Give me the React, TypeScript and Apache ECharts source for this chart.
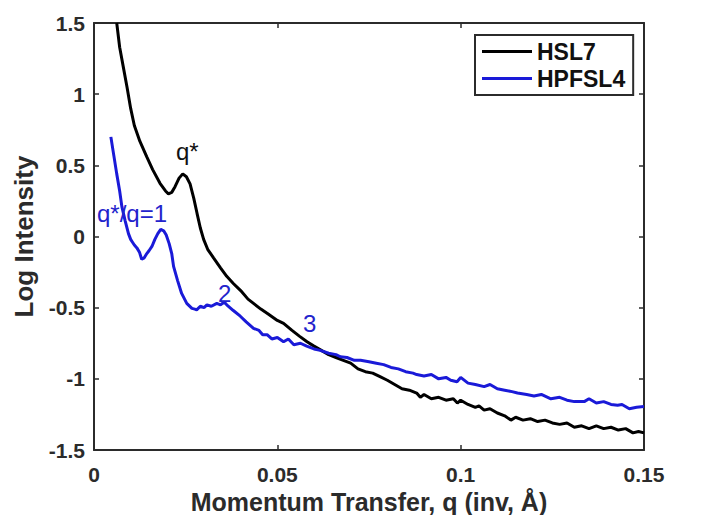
import React, { useEffect, useRef } from "react";
import * as echarts from "echarts";

const seriesNames = ["HSL7", "HPFSL4"];

const hsl7: [number, number][] = [
  [0.0062, 1.5], [0.007, 1.33], [0.008, 1.19], [0.009, 1.05], [0.01, 0.9], [0.011, 0.78],
  [0.0125, 0.67], [0.0144, 0.56], [0.016, 0.47], [0.018, 0.374], [0.0195, 0.32], [0.0203, 0.3],
  [0.0212, 0.31], [0.0221, 0.35], [0.0232, 0.41], [0.0242, 0.44], [0.0252, 0.42], [0.0262, 0.37],
  [0.0272, 0.27], [0.0281, 0.163], [0.029, 0.06], [0.0299, -0.02], [0.031, -0.09], [0.0326, -0.15],
  [0.0345, -0.22], [0.0362, -0.28], [0.038, -0.33], [0.04, -0.38], [0.042, -0.44], [0.0435, -0.47],
  [0.0455, -0.51], [0.0475, -0.545], [0.05, -0.59], [0.0517, -0.61], [0.054, -0.66], [0.056, -0.7],
  [0.0581, -0.74], [0.06, -0.77], [0.062, -0.8], [0.064, -0.83], [0.066, -0.85], [0.068, -0.87],
  [0.07, -0.89], [0.072, -0.93], [0.074, -0.95], [0.076, -0.96], [0.078, -0.985], [0.08, -1.01],
  [0.082, -1.04], [0.084, -1.07], [0.086, -1.08], [0.088, -1.1], [0.089, -1.13], [0.09, -1.11],
  [0.092, -1.14], [0.094, -1.13], [0.096, -1.15], [0.098, -1.14], [0.0991, -1.17], [0.1, -1.15],
  [0.102, -1.18], [0.104, -1.2], [0.105, -1.19], [0.1064, -1.22], [0.108, -1.21], [0.11, -1.24],
  [0.112, -1.26], [0.1137, -1.29], [0.115, -1.27], [0.117, -1.29], [0.119, -1.28], [0.121, -1.3],
  [0.123, -1.29], [0.125, -1.31], [0.127, -1.32], [0.129, -1.31], [0.131, -1.34], [0.133, -1.33],
  [0.135, -1.35], [0.137, -1.33], [0.139, -1.35], [0.141, -1.34], [0.143, -1.36], [0.145, -1.35],
  [0.147, -1.38], [0.1485, -1.37], [0.15, -1.38],
];

const hpfsl4: [number, number][] = [
  [0.0046, 0.7], [0.0054, 0.57], [0.0062, 0.44], [0.007, 0.32], [0.0076, 0.21], [0.0085, 0.11],
  [0.0094, 0.02], [0.01, -0.02], [0.0105, -0.04], [0.011, -0.06], [0.0117, -0.08], [0.0124, -0.11],
  [0.013, -0.16], [0.0137, -0.15], [0.0144, -0.12], [0.015, -0.1], [0.0158, -0.07], [0.0166, -0.02],
  [0.0174, 0.02], [0.0182, 0.05], [0.019, 0.04], [0.0197, 0.01], [0.0205, -0.05], [0.0212, -0.12],
  [0.0217, -0.21], [0.0228, -0.31], [0.0239, -0.4], [0.0253, -0.47], [0.0267, -0.505], [0.0275, -0.51],
  [0.028, -0.515], [0.029, -0.49], [0.03, -0.5], [0.0308, -0.48], [0.032, -0.49], [0.0335, -0.47],
  [0.0345, -0.48], [0.0355, -0.46], [0.0362, -0.48], [0.038, -0.52], [0.0399, -0.56], [0.0415, -0.6],
  [0.0435, -0.645], [0.045, -0.66], [0.046, -0.69], [0.0472, -0.69], [0.0485, -0.72], [0.05, -0.71],
  [0.0517, -0.74], [0.053, -0.72], [0.0545, -0.76], [0.0563, -0.75], [0.058, -0.77], [0.06, -0.79],
  [0.0617, -0.8], [0.064, -0.82], [0.066, -0.83], [0.0672, -0.845], [0.069, -0.85], [0.071, -0.87],
  [0.0727, -0.87], [0.075, -0.88], [0.077, -0.89], [0.079, -0.9], [0.081, -0.92], [0.083, -0.93],
  [0.085, -0.95], [0.087, -0.96], [0.088, -0.97], [0.09, -0.98], [0.092, -0.97], [0.094, -1.0],
  [0.096, -0.99], [0.0973, -1.01], [0.099, -1.02], [0.1, -0.99], [0.102, -1.03], [0.104, -1.04],
  [0.1064, -1.055], [0.108, -1.04], [0.11, -1.07], [0.112, -1.08], [0.114, -1.09], [0.1155, -1.1],
  [0.118, -1.11], [0.12, -1.12], [0.122, -1.11], [0.1246, -1.14], [0.127, -1.13], [0.129, -1.15],
  [0.131, -1.16], [0.1337, -1.16], [0.135, -1.14], [0.137, -1.17], [0.139, -1.16], [0.141, -1.18],
  [0.1428, -1.185], [0.144, -1.18], [0.146, -1.21], [0.148, -1.2], [0.15, -1.195],
];

const annotations = [
  { text: "q*", color: "#111111", x: 176, y: 151 },
  { text: "q*/q=1", color: "#2323cc", x: 97, y: 213 },
  { text: "2", color: "#2323cc", x: 218, y: 293 },
  { text: "3", color: "#2323cc", x: 303, y: 323 },
];

const AXIS = "#2b2b2b";
const BLUE = "#1a1ad8";
const FONT = "'Liberation Sans', Arial, sans-serif";

export default function App() {
  const ref = useRef<HTMLDivElement>(null);
  useEffect(() => {
    if (!ref.current) return;
    document.documentElement.style.overflow = "hidden";
    document.body.style.overflow = "hidden";
    document.body.style.margin = "0";
    const chart = echarts.init(ref.current, undefined, { renderer: "svg" });
    const axisLine = { show: true, onZero: false, lineStyle: { color: AXIS, width: 2 } };
    const tick = { show: true, inside: true, length: 5, lineStyle: { color: AXIS, width: 1.5 } };
    const label = { color: AXIS, fontWeight: "bold" as const, fontSize: 21, fontFamily: FONT };
    const icon = "path://M0,0 L50,0 L50,3 L0,3 Z";
    chart.setOption({
      animation: false,
      backgroundColor: "#ffffff",
      grid: { left: 94, right: 66, top: 23, bottom: 65, containLabel: false, outerBoundsMode: "none" },
      legend: {
        data: [
          { name: seriesNames[0], icon },
          { name: seriesNames[1], icon },
        ],
        orient: "vertical",
        left: 475,
        top: 35,
        padding: [5, 8, 5, 7],
        itemGap: 4,
        itemWidth: 50,
        itemHeight: 23,
        symbolKeepAspect: true,
        borderColor: AXIS,
        borderWidth: 2,
        backgroundColor: "#ffffff",
        textStyle: { color: "#111", fontWeight: "bold", fontSize: 23, fontFamily: FONT },
      },
      xAxis: [
        {
          type: "value", min: 0, max: 0.15, interval: 0.05,
          name: "Momentum Transfer, q (inv, Å)", nameLocation: "middle", nameGap: 33,
          nameTextStyle: { color: AXIS, fontWeight: "bold", fontSize: 25, fontFamily: FONT },
          axisLine, axisTick: tick, axisLabel: { ...label, margin: 14 }, splitLine: { show: false },
        },
        {
          type: "value", position: "top", min: 0, max: 0.15, interval: 0.05,
          axisLine, axisTick: tick, axisLabel: { show: false }, splitLine: { show: false },
        },
      ],
      yAxis: [
        {
          type: "value", min: -1.5, max: 1.5, interval: 0.5,
          name: "Log Intensity", nameLocation: "middle", nameGap: 57,
          nameTextStyle: { color: AXIS, fontWeight: "bold", fontSize: 26, fontFamily: FONT },
          axisLine, axisTick: tick, axisLabel: { ...label, margin: 9 }, splitLine: { show: false },
        },
        {
          type: "value", position: "right", min: -1.5, max: 1.5, interval: 0.5,
          axisLine, axisTick: tick, axisLabel: { show: false }, splitLine: { show: false },
        },
      ],
      series: [
        {
          name: seriesNames[0], type: "line", data: hsl7, symbol: "none",
          lineStyle: { color: "#000000", width: 3 }, itemStyle: { color: "#000000" },
        },
        {
          name: seriesNames[1], type: "line", data: hpfsl4, symbol: "none",
          lineStyle: { color: BLUE, width: 3 }, itemStyle: { color: BLUE },
        },
      ],
      graphic: annotations.map((a) => ({
        type: "text", x: a.x, y: a.y, z: 100,
        style: { text: a.text, fill: a.color, fontSize: 24, fontFamily: FONT, align: "left", verticalAlign: "middle" },
      })),
    });
    return () => chart.dispose();
  }, []);
  return (
    <div
      ref={ref}
      style={{ width: 710, height: 515, position: "absolute", left: 0, top: 0, overflow: "hidden" }}
    />
  );
}
